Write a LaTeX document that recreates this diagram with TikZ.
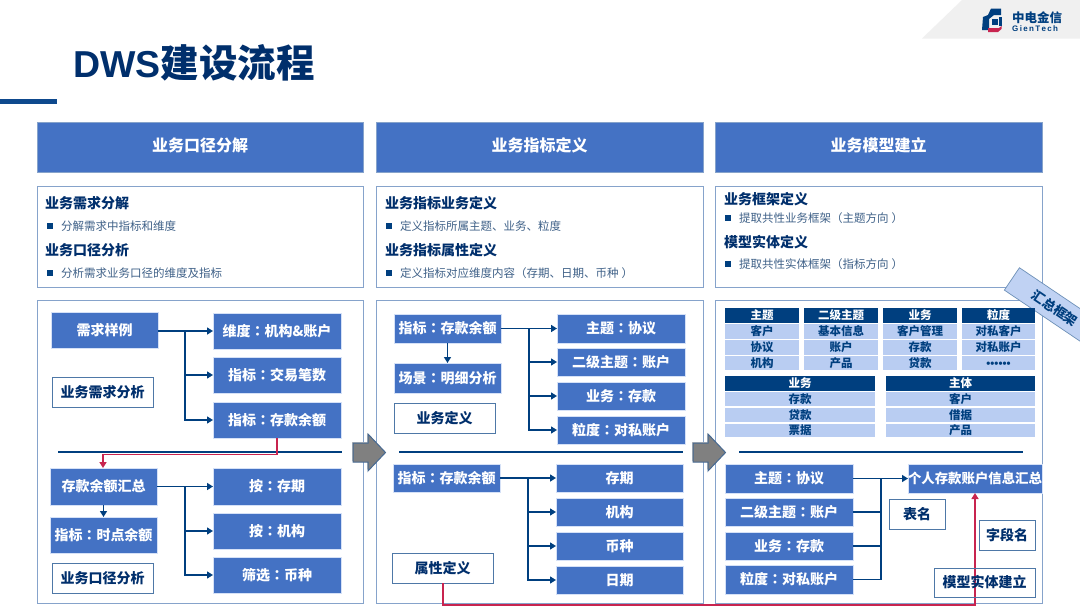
\documentclass[tikz,border=0pt]{standalone}
\usepackage{fontspec}
\setmainfont{Noto Sans CJK SC}
\newfontfamily\tcfont{Noto Sans CJK TC}
\newfontfamily\latinfont{Liberation Sans}
\usetikzlibrary{arrows.meta,calc}
\definecolor{mainblue}{HTML}{4472C4}
\definecolor{navy}{HTML}{003F7F}
\definecolor{titlenavy}{HTML}{002F6C}
\definecolor{lightrow}{HTML}{B9CDF2}
\definecolor{panelline}{HTML}{86A3CB}
\definecolor{boxline}{HTML}{2F6098}
\definecolor{redline}{HTML}{C8244F}
\definecolor{bullettext}{HTML}{3F6188}
\newcommand{\cln}{{\tcfont ：}}
\newcommand{\lpar}{{\tcfont （}}
\newcommand{\rpar}{\hspace{3pt}{\tcfont ）}}
\newcommand{\bx}[7]{\node[#6,minimum width={(#4-#2)*1pt},minimum height={(#5-#3)*1pt}] (#1) at ({(#2+#4)/2},{(#3+#5)/2}) {#7};}
\tikzset{
  base/.style={inner sep=0pt,outer sep=0pt,text height=11pt,text depth=0.4pt,align=center},
  head/.style={base,fill=mainblue,draw=panelline,line width=0.5pt,text=white,text height=10pt,font=\fontsize{16}{18}\selectfont\bfseries},
  panel/.style={base,draw=panelline,fill=white,line width=0.9pt},
  blue/.style={base,fill=mainblue,draw=lightrow!60!white,line width=0.4pt,text=white,font=\fontsize{14}{16}\selectfont\bfseries},
  tag/.style={base,draw=boxline!85!white,fill=white,line width=0.7pt,text=titlenavy,font=\fontsize{14}{16}\selectfont\bfseries},
  plaintag/.style={base,draw=boxline!85!white,line width=0.7pt,text=titlenavy,font=\fontsize{14}{16}\selectfont\bfseries},
  thead/.style={base,fill=navy,text=white,text height=9.2pt,font=\fontsize{11.5}{13}\selectfont\bfseries},
  trow/.style={base,fill=lightrow,text=navy,text height=9.2pt,font=\fontsize{11.5}{13}\selectfont\bfseries},
  subt/.style={inner sep=0pt,anchor=west,text=titlenavy,font=\fontsize{14}{16}\selectfont\bfseries},
  bul/.style={inner sep=0pt,anchor=west,text=bullettext,font=\fontsize{11.5}{13}\selectfont},
  bmark/.style={fill=navy,draw=none},
  conn/.style={draw=navy,line width=1.4pt,-{Triangle[length=6pt,width=7pt]}},
  mainconn/.style={draw=navy,line width=1.9pt,-{Triangle[length=6pt,width=7pt]}},
  plainconn/.style={draw=navy,line width=1.4pt},
  sep/.style={draw=navy,line width=1.3pt},
  redconn/.style={draw=redline,line width=1.5pt,-{Triangle[length=6pt,width=7pt]}},
  gblock/.style={fill=black!50,draw=boxline!70!gray,line width=1pt},
}
\begin{document}
\begin{tikzpicture}[x=1pt,y=-1pt]
\useasboundingbox (0,0) rectangle (1080,611);
\fill[white] (0,0) rectangle (1080,611);
% top-right band and logo
\fill[black!6] (962,0) -- (922,38.5) -- (1080,38.5) -- (1080,0) -- cycle;
\fill[navy] (1001,8.5) -- (991,8.5) -- (988,15) -- (983,17) -- (982,30) -- (989,30) -- (989,19) -- (994,15) -- (1001,15) -- cycle;
\fill[navy] (991.5,18.5) rectangle (998,24.5);
\fill[navy] (999,17) rectangle (1001.5,26);
\fill[redline] (988,28) -- (999,28) -- (1001.5,26) -- (1001.5,29) -- (998,32) -- (988,32) -- cycle;
\node[inner sep=0pt,anchor=west,text=navy,font=\fontsize{12.5}{14}\selectfont\bfseries] (logocn) at (1012,18) {中电金信};
\node[inner sep=0pt,anchor=west,text=navy,font=\latinfont\fontsize{8}{9}\selectfont\bfseries] (logoen) at (1012,28.5) {G\,i\,e\,n\,T\,e\,c\,h};
% title
\node[inner sep=0pt,anchor=west,text=titlenavy,font=\fontsize{38.5}{42}\selectfont\bfseries] (title) at (73,63) {{\latinfont\fontsize{37.5}{42}\selectfont\bfseries DWS}建设流程};
\fill[navy!80!mainblue] (0,99) rectangle (57,104);
% headers
\bx{h1}{37}{122}{363}{172}{head}{业务口径分解}
\bx{h2}{376}{122}{703}{172}{head}{业务指标定义}
\bx{h3}{715}{122}{1042}{172}{head}{业务模型建立}
% description panels
\bx{d1}{37}{186}{363}{287}{panel}{}
\bx{d2}{376}{186}{703}{287}{panel}{}
\bx{d3}{715}{186}{1042}{287}{panel}{}
\node[subt] (s11) at (45,203) {业务需求分解};
\fill[bmark] (46.5,223) rectangle (52.5,229);
\node[bul] (b11) at (61,226.5) {分解需求中指标和维度};
\node[subt] (s12) at (45,250) {业务口径分析};
\fill[bmark] (46.5,270) rectangle (52.5,276);
\node[bul] (b12) at (61,273) {分析需求业务口径的维度及指标};
\node[subt] (s21) at (385,203) {业务指标业务定义};
\fill[bmark] (386,223) rectangle (392,229);
\node[bul] (b21) at (400,226.5) {定义指标所属主题、业务、粒度};
\node[subt] (s22) at (385,250) {业务指标属性定义};
\fill[bmark] (386,270) rectangle (392,276);
\node[bul] (b22) at (400,273) {定义指标对应维度内容\lpar 存期、日期、币种\rpar};
\node[subt] (s31) at (724,199.5) {业务框架定义};
\fill[bmark] (725,215) rectangle (731,221);
\node[bul] (b31) at (739,218) {提取共性业务框架\lpar 主题方向\rpar};
\node[subt] (s32) at (724,242) {模型实体定义};
\fill[bmark] (725,261) rectangle (731,267);
\node[bul] (b32) at (739,264.5) {提取共性实体框架\lpar 指标方向\rpar};
% lower panels
\bx{p1}{37}{300}{363}{603}{panel}{}
\bx{p2}{376}{300}{703}{603}{panel}{}
\bx{p3}{715}{300}{1042}{603}{panel}{}
% rotated tab
\node[base,fill=lightrow!90!white,draw=boxline!70!white,line width=0.7pt,rotate=-34,minimum width=104pt,minimum height=27pt,text=navy,font=\fontsize{13}{15}\selectfont\bfseries] (tab) at (1055,308) {汇总框架};
% separators
\coordinate (sa1) at (58,452); \coordinate (sa2) at (342,452);
\coordinate (sb1) at (399,452); \coordinate (sb2) at (683,452);
\coordinate (sc1) at (739,452); \coordinate (sc2) at (1023,452);
\draw[sep] (sa1) -- (sa2);
\draw[sep] (sb1) -- (sb2);
\draw[sep] (sc1) -- (sc2);
% panel 1 boxes
\bx{a0}{51}{312}{158}{348}{blue}{需求样例}
\bx{a1}{213}{313}{341}{349}{blue}{维度\cln 机构\&账户}
\bx{a2}{213}{357}{341}{393}{blue}{指标\cln 交易笔数}
\bx{a3}{213}{402}{341}{438}{blue}{指标\cln 存款余额}
\bx{at1}{52}{377}{153}{407}{tag}{业务需求分析}
\bx{a4}{50}{468}{157}{505}{blue}{存款余额汇总}
\bx{a5}{50}{517}{157}{553}{blue}{指标\cln 时点余额}
\bx{at2}{52}{563}{153}{593}{tag}{业务口径分析}
\bx{a6}{213}{468}{341}{505}{blue}{按\cln 存期}
\bx{a7}{213}{513}{341}{549}{blue}{按\cln 机构}
\bx{a8}{213}{557}{341}{593}{blue}{筛选\cln 币种}
\coordinate (ta) at (185,331);
\draw[mainconn] (a0.east |- a1.west) -- (a1.west);
\draw[conn] (ta) |- (a2.west);
\draw[conn] (ta) |- (a3.west);
\coordinate (tb) at (185,487);
\draw[mainconn] (a4.east) -- (a6.west);
\draw[conn] (tb) |- (a7.west);
\draw[conn] (tb) |- (a8.west);
\draw[conn] (a4.south) -- (a5.north);
\coordinate (ra) at (277,454.5);
\draw[redconn] (a3.south -| ra) -- (ra) -| (a4.north -| 103,0);
% panel 2 boxes
\bx{b0}{394}{314}{501}{343}{blue}{指标\cln 存款余额}
\bx{b1}{394}{363}{501}{393}{blue}{场景\cln 明细分析}
\bx{bt1}{394}{403}{495}{433}{tag}{业务定义}
\bx{b2}{557}{314}{685}{343}{blue}{主题\cln 协议}
\bx{b3}{557}{348}{685}{376}{blue}{二级主题\cln 账户}
\bx{b4}{557}{382}{685}{410}{blue}{业务\cln 存款}
\bx{b5}{557}{416}{685}{444}{blue}{粒度\cln 对私账户}
\bx{b6}{393}{464}{500}{492}{blue}{指标\cln 存款余额}
\bx{b7}{556}{464}{683}{492}{blue}{存期}
\bx{b8}{556}{498}{683}{526}{blue}{机构}
\bx{b9}{556}{532}{683}{560}{blue}{币种}
\bx{b10}{556}{566}{683}{594}{blue}{日期}
\bx{bt2}{392}{553}{493}{583}{tag}{属性定义}
\draw[conn] (b0.south -| 447.5,0) -- (b1.north -| 447.5,0);
\coordinate (tc) at (529,329);
\draw[mainconn] (b0.east |- b2.west) -- (b2.west);
\draw[conn] (tc) |- (b3.west);
\draw[conn] (tc) |- (b4.west);
\draw[conn] (tc) |- (b5.west);
\coordinate (td) at (528,478);
\draw[mainconn] (b6.east) -- (b7.west);
\draw[conn] (td) |- (b8.west);
\draw[conn] (td) |- (b9.west);
\draw[conn] (td) |- (b10.west);
% tables
\bx{t1h}{725}{308}{799}{323}{thead}{主题}
\bx{t1a}{725}{324}{799}{339}{trow}{客户}
\bx{t1b}{725}{340}{799}{355}{trow}{协议}
\bx{t1c}{725}{355.5}{799}{370}{trow}{机构}
\bx{t2h}{804}{308}{878}{323}{thead}{二级主题}
\bx{t2a}{804}{324}{878}{339}{trow}{基本信息}
\bx{t2b}{804}{340}{878}{355}{trow}{账户}
\bx{t2c}{804}{355.5}{878}{370}{trow}{产品}
\bx{t3h}{883}{308}{957}{323}{thead}{业务}
\bx{t3a}{883}{324}{957}{339}{trow}{客户管理}
\bx{t3b}{883}{340}{957}{355}{trow}{存款}
\bx{t3c}{883}{355.5}{957}{370}{trow}{贷款}
\bx{t4h}{962}{308}{1035}{323}{thead}{粒度}
\bx{t4a}{962}{324}{1035}{339}{trow}{对私客户}
\bx{t4b}{962}{340}{1035}{355}{trow}{对私账户}
\bx{t4c}{962}{355.5}{1035}{370}{trow}{{\latinfont ••••••}}
\bx{t5h}{725}{376}{875}{391}{thead}{业务}
\bx{t5a}{725}{392}{875}{406}{trow}{存款}
\bx{t5b}{725}{408}{875}{422}{trow}{贷款}
\bx{t5c}{725}{423.5}{875}{437}{trow}{票据}
\bx{t6h}{886}{376}{1035}{391}{thead}{主体}
\bx{t6a}{886}{392}{1035}{406}{trow}{客户}
\bx{t6b}{886}{408}{1035}{422}{trow}{借据}
\bx{t6c}{886}{423.5}{1035}{437}{trow}{产品}
% panel 3 boxes
\bx{c1}{725}{464}{853}{493}{blue}{主题\cln 协议}
\bx{c2}{725}{498}{853}{526}{blue}{二级主题\cln 账户}
\bx{c3}{725}{532}{853}{560}{blue}{业务\cln 存款}
\bx{c4}{725}{565}{853}{594}{blue}{粒度\cln 对私账户}
\bx{c5}{908}{464}{1042}{493}{blue,font=\fontsize{13.4}{16}\selectfont\bfseries}{个人存款账户信息汇总}
\bx{ct1}{889}{499}{945}{529}{tag}{表名}
\bx{ct2}{979}{520}{1035}{550}{tag}{字段名}
\coordinate (te) at (881,478.5);
\draw[conn] (c1.east) -- (c5.west);
\draw[plainconn] (c2.east) -| (te);
\draw[plainconn] (c3.east) -| (te);
\draw[plainconn] (c4.east) -| (te);
% red connector from the attribute tag to the summary table
\coordinate (rb) at (443,605);
\coordinate (rc) at (975,605);
\draw[redconn] (bt2.south -| rb) -- (rb) -- (rc) -- (c5.south -| rc);
\bx{ct3}{934}{568}{1035}{597}{plaintag}{模型实体建立}
% block arrows
\coordinate (ga) at (353,452.5);
\coordinate (gb) at (693,452.5);
\foreach \g in {ga,gb}{
  \fill[black!25,shift={(\g)},xshift=-1pt,yshift=1pt] (0,-9.5) -- (15,-9.5) -- (15,-18.5) -- (32.5,0) -- (15,18.5) -- (15,9.5) -- (0,9.5) -- cycle;
  \filldraw[gblock,shift={(\g)}] (0,-9.5) -- (15,-9.5) -- (15,-18.5) -- (32.5,0) -- (15,18.5) -- (15,9.5) -- (0,9.5) -- cycle;
}
\end{tikzpicture}
\end{document}
